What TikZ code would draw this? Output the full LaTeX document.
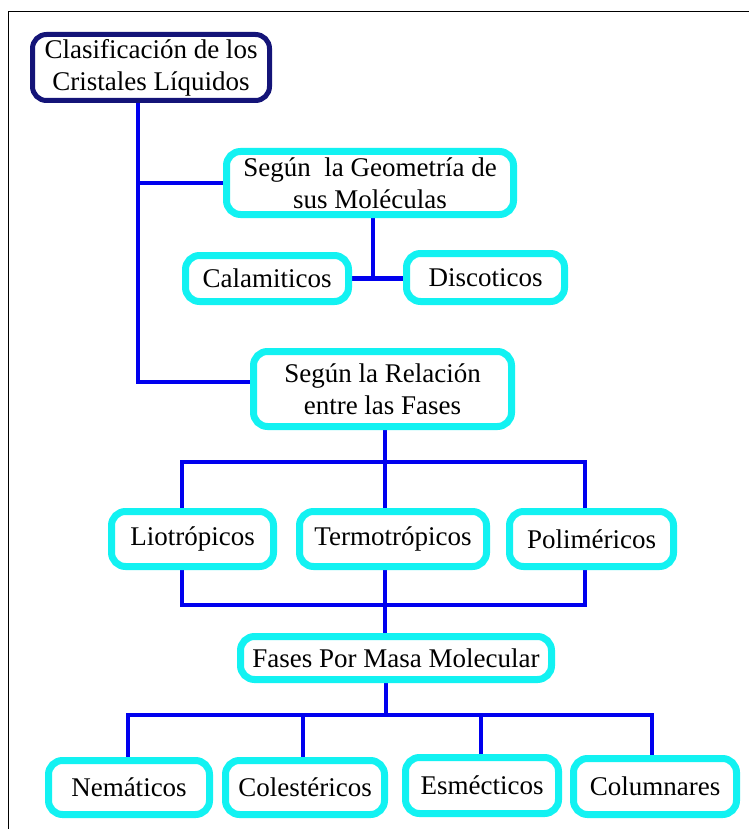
\documentclass[tikz,border=0pt]{standalone}
\usepackage{fontspec}
\usetikzlibrary{backgrounds}
\setmainfont{Liberation Serif}
\definecolor{boxcyan}{HTML}{12F2F2}
\definecolor{navy}{HTML}{141478}
\definecolor{linkblue}{HTML}{0000EE}
\begin{document}
\begin{tikzpicture}[x=1pt,y=-1pt,
  box/.style={draw=boxcyan,line width=7pt,rounded corners=14pt,inner sep=0pt,align=center,fill=white,font=\fontsize{27}{32}\selectfont},
  rootbox/.style={box,draw=navy,line width=5pt},
  conn/.style={draw=linkblue,line width=4.5pt}]
\useasboundingbox (0,0) rectangle (749,829);
\draw[black,line width=1pt] (8,829) -- (8,12) -- (749,12);
% nodes
\node[rootbox,minimum width=237pt,minimum height=66pt] (root) at (151,67.5) {Clasificación de los\\Cristales Líquidos};
\node[box,minimum width=287pt,minimum height=63pt] (geo) at (370,183) {Según\ \ la Geometría de\\sus Moléculas};
\node[box,minimum width=163pt,minimum height=46pt] (cal) at (267,278.5) {Calamiticos};
\node[box,minimum width=158pt,minimum height=48pt] (dis) at (485.5,277.5) {Discoticos};
\node[box,minimum width=258pt,minimum height=75pt] (rel) at (382.5,389) {Según la Relación\\entre las Fases};
\node[box,minimum width=162pt,minimum height=55pt] (lio) at (192.5,539) {Liotrópicos};
\node[box,minimum width=187pt,minimum height=55pt] (ter) at (393,539) {Termotrópicos};
\node[box,minimum width=164pt,minimum height=55pt] (pol) at (591.5,539) {Poliméricos};
\node[box,minimum width=311pt,minimum height=43pt] (fases) at (396,658) {Fases Por Masa Molecular};
\node[box,minimum width=161pt,minimum height=54pt] (nem) at (129,787.5) {Nemáticos};
\node[box,minimum width=159pt,minimum height=54pt] (col) at (305,787.5) {Colestéricos};
\node[box,minimum width=153pt,minimum height=56pt] (esm) at (482,785.5) {Esmécticos};
\node[box,minimum width=163pt,minimum height=56pt] (colu) at (655,786.5) {Columnares};
% connectors
\begin{scope}[on background layer]
\coordinate (trunk) at ([xshift=-13pt]root.south);
\draw[conn] (trunk) |- ([yshift=7pt]rel.west);
\draw[conn] (geo.west) -- (geo.west -| trunk);
\draw[conn] ([xshift=3pt]geo.south) -- ([xshift=3pt]geo.south |- cal.east);
\draw[conn] (cal.east) -- (cal.east -| dis.west);
\coordinate (bar1) at (385,462);
\coordinate (bar2) at (385,605);
\coordinate (bar3) at (386,715);
\draw[conn] ([xshift=2.5pt]rel.south) -- ([xshift=2.5pt]rel.south |- ter.north);
\draw[conn] ([xshift=-10.5pt]lio.north) |- (bar1) -| ([xshift=-6.5pt]pol.north);
\draw[conn] ([xshift=-10.5pt]lio.south) |- (bar2) -| ([xshift=-6.5pt]pol.south);
\draw[conn] ([xshift=-8pt]ter.south) -- ([xshift=-8pt]ter.south |- fases.north);
\draw[conn] ([xshift=-10pt]fases.south) -- (bar3);
\draw[conn] ([xshift=-1pt]nem.north) |- (bar3) -| ([xshift=-3pt]colu.north);
\draw[conn] ([xshift=-2pt]col.north) -- ([xshift=-2pt]col.north |- bar3);
\draw[conn] ([xshift=-1pt]esm.north) -- ([xshift=-1pt]esm.north |- bar3);
\end{scope}
\end{tikzpicture}
\end{document}
